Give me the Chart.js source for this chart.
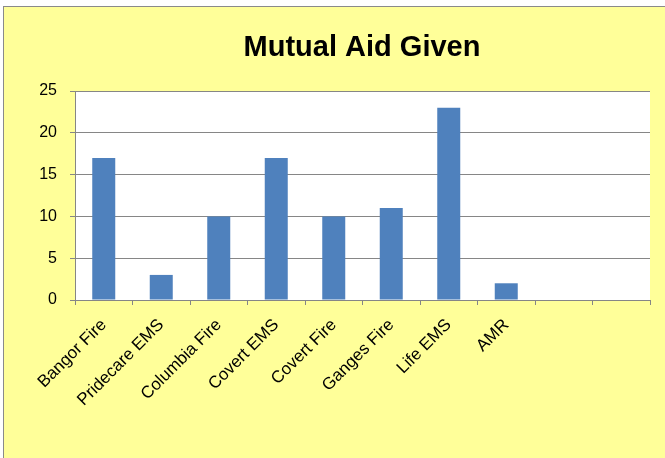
<!DOCTYPE html>
<html>
<head>
<meta charset="utf-8">
<script src="https://cdn.jsdelivr.net/npm/chart.js@4/dist/chart.umd.min.js"></script>
<style>
  html, body { margin: 0; padding: 0; background: #ffffff; overflow: hidden; }
  #frame { position: absolute; left: 3px; top: 6px; width: 680px; height: 470px;
           background: #FFFF99; border-left: 1px solid #8a8a8a; border-top: 1px solid #8a8a8a; }
  #wrap { position: absolute; left: 0; top: 0; width: 662px; height: 452px; }
</style>
</head>
<body>
<div id="frame"><div id="wrap"><canvas id="c" width="662" height="452"></canvas></div></div>
<script>
const chartTitle = "Mutual Aid Given";
const categories = ["Bangor Fire", "Pridecare EMS", "Columbia Fire", "Covert EMS", "Covert Fire", "Ganges Fire", "Life EMS", "AMR", "", ""];
const aidGiven = [17, 3, 10, 17, 10, 11, 23, 2, null, null];
const yMin = 0, yMax = 25, yStep = 5;

const plotBg = {
  id: 'plotBg',
  beforeDraw(chart) {
    const {ctx, chartArea: a} = chart;
    ctx.save();
    ctx.fillStyle = '#ffffff';
    ctx.fillRect(a.left, a.top, a.right - a.left, a.bottom - a.top);
    ctx.restore();
  }
};
const titlePlugin = {
  id: 'titleText',
  afterDraw(chart) {
    const ctx = chart.ctx;
    ctx.save();
    ctx.font = 'bold 29px "Liberation Sans", Arial, sans-serif';
    ctx.fillStyle = '#000000';
    ctx.textAlign = 'center';
    ctx.textBaseline = 'alphabetic';
    ctx.fillText(chartTitle, 358, 49);
    ctx.restore();
  }
};

new Chart(document.getElementById('c'), {
  type: 'bar',
  data: {
    labels: categories,
    datasets: [{
      data: aidGiven,
      backgroundColor: '#4F81BD',
      borderWidth: 0,
      barPercentage: 0.4,
      categoryPercentage: 1.0
    }]
  },
  plugins: [plotBg, titlePlugin],
  options: {
    responsive: false,
    animation: false,
    devicePixelRatio: 1,
    layout: { padding: { top: 84, right: 16, left: 0, bottom: 0 } },
    plugins: { legend: { display: false }, title: { display: false }, tooltip: { enabled: false } },
    scales: {
      x: {
        offset: true,
        grid: { offset: true, drawOnChartArea: false, color: '#868686', tickLength: 5 },
        border: { color: '#868686', width: 1 },
        ticks: {
          autoSkip: false, maxRotation: 45, minRotation: 45, padding: 10,
          color: '#000000',
          font: { family: '"Liberation Sans", Arial, sans-serif', size: 17 }
        },
        afterFit(scale) { scale.height = 159; }
      },
      y: {
        min: yMin, max: yMax,
        ticks: {
          stepSize: yStep, padding: 13, color: '#000000',
          font: { family: '"Liberation Sans", Arial, sans-serif', size: 16 }
        },
        grid: { color: '#868686', tickLength: 5 },
        border: { color: '#868686', width: 1 },
        afterFit(scale) { scale.width = 71; }
      }
    }
  }
});
</script>
</body>
</html>
